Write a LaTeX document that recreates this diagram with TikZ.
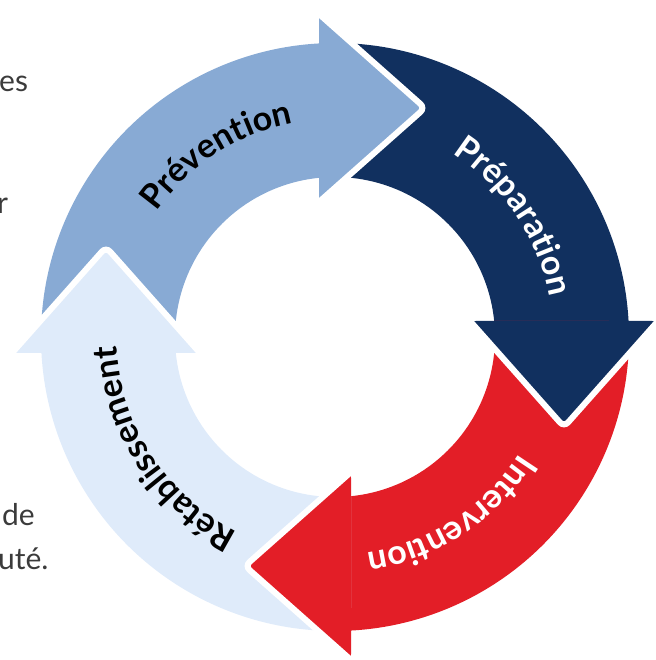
\documentclass[tikz,border=0pt]{standalone}
\usepackage{fontspec}
\setmainfont{Lato}
\usetikzlibrary{decorations.text}

\definecolor{prevblue}{HTML}{88AAD4}
\definecolor{prepnavy}{HTML}{11305F}
\definecolor{interred}{HTML}{E31E27}
\definecolor{retablight}{HTML}{DFEBFA}
\definecolor{bodygrey}{HTML}{3B3B3B}

\newcommand{\phasefont}{\bfseries\fontsize{34}{40}\selectfont}
\newcommand{\bodyfont}{\fontsize{30}{36}\selectfont}

\tikzset{
  bodytext/.style={anchor=base west, inner sep=0pt, text=bodygrey, font=\bodyfont},
  headedge/.style={white, line width=6pt, rounded corners=6pt},
}

\begin{document}
\begin{tikzpicture}[x=1pt,y=1pt]
\useasboundingbox (-335,-323) rectangle (320,337);
% bands, one quarter each (end runs a little under the head)
\foreach \rot/\col in {0/prevblue, -90/prepnavy, -180/interred, -270/retablight}{
  \begin{scope}[rotate=\rot]
    \fill [\col] (183.12:294pt) arc[start angle=183.12, end angle=91.95, radius=294pt]
      -- (93.58:160pt) arc[start angle=93.58, end angle=185.74, radius=160pt] -- cycle;
  \end{scope}
}
% arrow heads on top
\foreach \rot/\col in {0/prevblue, -90/prepnavy, -180/interred, -270/retablight}{
  \begin{scope}[rotate=\rot]
    \fill [\col, rounded corners=6pt] (-16,135) -- (-16,323) -- (90,229) -- cycle;
    \draw [headedge] (-16,323) -- (90,229) -- (-16,135);
  \end{scope}
}
% labels along the ring
\path [decorate, decoration={text along path, text align=center, text color=black,
  text={|\phasefont|Prévention}}] (183:218pt) arc[start angle=183, end angle=63, radius=218pt];
\path [decorate, decoration={text along path, text align=center, text color=white,
  text={|\phasefont|Préparation}}] (94:218pt) arc[start angle=94, end angle=-26, radius=218pt];
\path [decorate, decoration={text along path, text align=center, text color=white,
  text={|\phasefont|Intervention}}] (3:218pt) arc[start angle=3, end angle=-117, radius=218pt];
\path [decorate, decoration={text along path, text align=center, text color=black,
  text={|\phasefont|Rétablissement}}] (273:218pt) arc[start angle=273, end angle=153, radius=218pt];
% cut-off body text on the left
\node [bodytext] (es) at (-336,245) {es};
\node [bodytext] (r) at (-338,123) {r};
\node [bodytext] (de) at (-333,-188) {de};
\node [bodytext] (ute) at (-337,-232) {uté.};
\end{tikzpicture}
\end{document}
